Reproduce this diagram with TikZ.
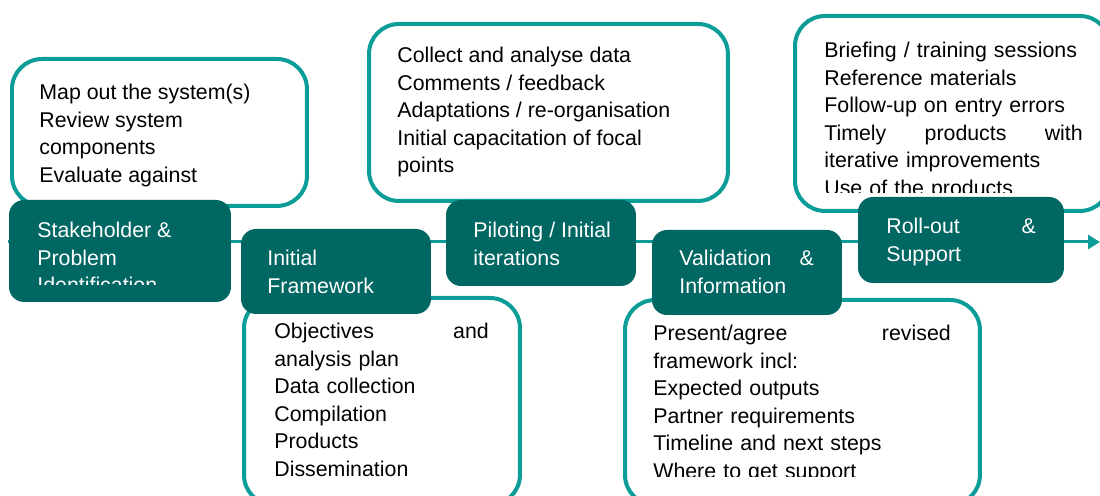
\documentclass[tikz,border=0pt]{standalone}
\usepackage{fontspec}
\setmainfont{Liberation Sans}
\usetikzlibrary{positioning}
\usetikzlibrary{arrows.meta}
\usetikzlibrary{calc}

\definecolor{darkteal}{RGB}{0,103,98}
\definecolor{lightteal}{RGB}{12,157,152}

\begin{document}
\begin{tikzpicture}[
    x=0.02cm, y=-0.02cm,
    outbox/.style={rectangle, rounded corners=0.6cm, draw=lightteal, line width=0.08cm, fill=white, anchor=north west, inner sep=0, outer sep=0},
    stage/.style={rectangle, rounded corners=0.3cm, fill=darkteal, anchor=north west, inner sep=0, outer sep=0},
    words/.style={anchor=north west, inner sep=0, align=left, font=\fontsize{12.15}{15.67}\selectfont},
    stagewords/.style={words, text=white}
]
    \path[use as bounding box, clip] (0,0) rectangle (1100,496);

    % Time line
    \coordinate (L0) at (8,242);
    \coordinate (L1) at (1100,242);
    \draw[lightteal, line width=0.06cm, -{Triangle[length=0.24cm, width=0.28cm]}] (L0) -- (L1);

    % Activity boxes
    \node[outbox, minimum width=5.9cm, minimum height=2.94cm] (B1) at (12,59) {};
    \node[words] (W1) at ($(B1.north west)+(27,21)$) {\strut Map out the system(s)\\ Review system\\ components\\ Evaluate against};

    \node[outbox, minimum width=7.18cm, minimum height=3.54cm] (B2) at (369,24) {};
    \node[words] (W2) at ($(B2.north west)+(28,19)$) {\strut Collect and analyse data\\ Comments / feedback\\ Adaptations / re-organisation\\ Initial capacitation of focal\\ points};

    \node[outbox, minimum width=6.3cm, minimum height=3.9cm] (B3) at (795,16) {};
    \begin{scope}
        \clip (B3.north west) rectangle ($(B3.north east)+(0,177)$);
        \node[words, text width=5.17cm] (W3) at ($(B3.north west)+(29,22)$) {\strut Briefing / training sessions\\ Reference materials\\ Follow-up on entry errors\\ Timely\hfill products\hfill with\\ iterative improvements\\ Use of the products};
    \end{scope}

    \node[outbox, minimum width=5.52cm, minimum height=4.14cm] (B4) at (244,298) {};
    \node[words, text width=4.29cm] (W4) at ($(B4.north west)+(30,21)$) {\strut Objectives\hfill and\\ analysis plan\\ Data collection\\ Compilation\\ Products\\ Dissemination};

    \node[outbox, minimum width=7.1cm, minimum height=4.1cm] (B5) at (625,300) {};
    \begin{scope}
        \clip (B5.north west) rectangle ($(B5.north east)+(0,177)$);
        \node[words, text width=5.95cm] (W5) at ($(B5.north west)+(28,21)$) {\strut Present/agree\hfill revised\\ framework incl:\\ Expected outputs\\ Partner requirements\\ Timeline and next steps\\ Where to get support};
    \end{scope}

    % Stages
    \node[stage, minimum width=4.44cm, minimum height=2.04cm] (S1) at (9,200) {};
    \begin{scope}
        \clip (S1.north west) rectangle ($(S1.north east)+(0,85)$);
        \node[stagewords] (T1) at ($(S1.north west)+(28,18)$) {\strut Stakeholder \&\\ Problem\\ Identification};
    \end{scope}

    \node[stage, minimum width=3.8cm, minimum height=1.7cm] (S2) at (241,229) {};
    \node[stagewords] (T2) at ($(S2.north west)+(26,17)$) {\strut Initial\\ Framework};

    \node[stage, minimum width=3.8cm, minimum height=1.72cm] (S3) at (446,200) {};
    \node[stagewords] (T3) at ($(S3.north west)+(27,18)$) {\strut Piloting / Initial\\ iterations};

    \node[stage, minimum width=3.8cm, minimum height=1.7cm] (S4) at (652,230) {};
    \node[stagewords, text width=2.69cm] (T4) at ($(S4.north west)+(27,16)$) {\strut Validation\hfill \&\\ Information};

    \node[stage, minimum width=4.12cm, minimum height=1.72cm] (S5) at (858,197) {};
    \node[stagewords, text width=2.99cm] (T5) at ($(S5.north west)+(28,17)$) {\strut Roll-out\hfill \&\\ Support};
\end{tikzpicture}
\end{document}
